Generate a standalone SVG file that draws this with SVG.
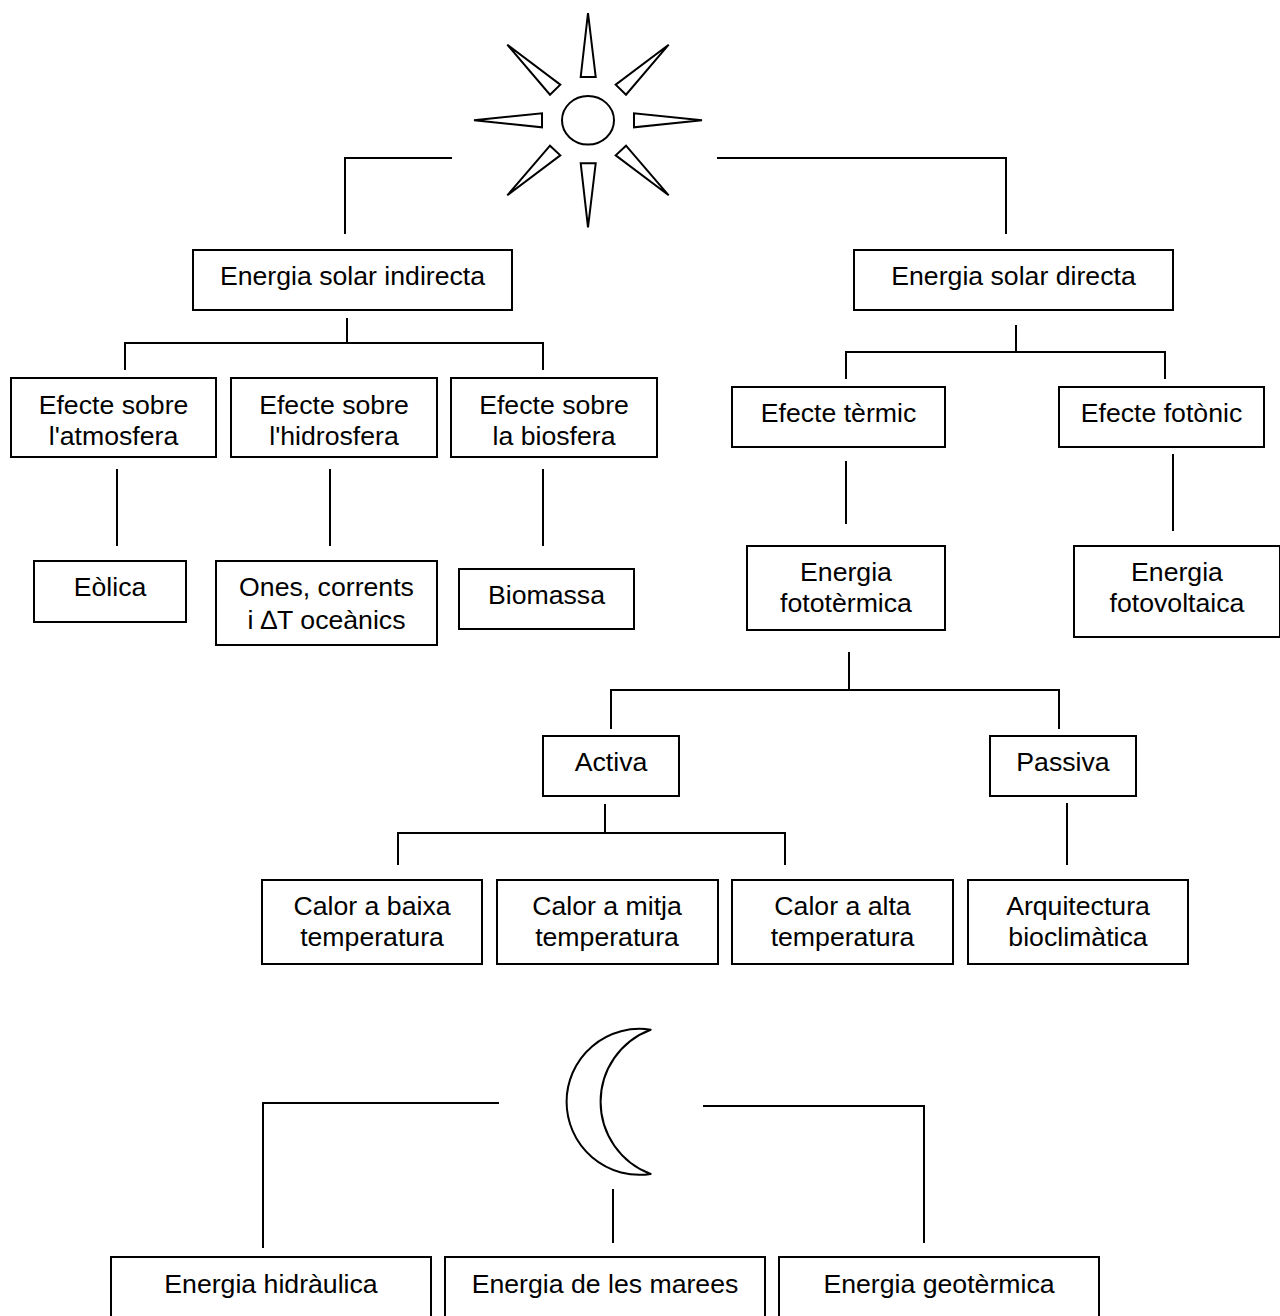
<svg xmlns="http://www.w3.org/2000/svg" width="1280" height="1316" viewBox="0 0 1280 1316">
<style>
.b{fill:#fff;stroke:#000;stroke-width:2}
.s{fill:none;stroke:#000;stroke-width:2;stroke-linejoin:miter}
.m{fill:none;stroke:#000;stroke-width:2;stroke-linejoin:round}
.c{fill:none;stroke:#000;stroke-width:2}
text{font-family:"Liberation Sans",Arial,sans-serif;font-size:26.67px;fill:#000;text-anchor:middle}
</style>
<rect width="1280" height="1316" fill="#fff"/>
<g id="connectors">
<path class="c" d="M452 158H345V234"/>
<path class="c" d="M717 158H1006V234"/>
<path class="c" d="M347 318V343M125 370V343H543V370"/>
<path class="c" d="M1016 325V352M846 379V352H1165V379"/>
<path class="c" d="M117 469V546M330 469V546M543 469V546"/>
<path class="c" d="M846 461V524M1173 454V531"/>
<path class="c" d="M849 652V690M611 729V690H1059V729"/>
<path class="c" d="M605 804V833M398 865V833H785V865"/>
<path class="c" d="M1067 803V865"/>
<path class="c" d="M499 1103H263V1248"/>
<path class="c" d="M703 1106H924V1243"/>
<path class="c" d="M613 1189V1243"/>
</g>
<g id="sun">
<ellipse class="s" cx="588" cy="120.3" rx="26" ry="24.3"/>
<path class="s" d="M588 13L595.7 77H580.7Z"/>
<path class="s" d="M668.7 44.7L626 94.7L615.7 84.7Z"/>
<path class="s" d="M507.3 44.7L560.3 84.7L550 94.7Z"/>
<path class="s" d="M474 120.3L542 113.3V127.3Z"/>
<path class="s" d="M702 120.3L634 113.3V127.3Z"/>
<path class="s" d="M507.3 195.3L550 145.7L560.3 155.3Z"/>
<path class="s" d="M668.7 195.3L615.7 155.3L626 145.7Z"/>
<path class="s" d="M588 227.3L580.7 163.3H595.7Z"/>
</g>
<g id="moon">
<path class="m" d="M650.7 1029.7A73 73 0 1 0 650.7 1174A77 77 0 0 1 650.7 1029.7Z"/>
</g>
<g id="n-indirecta"><rect class="b" x="193" y="250" width="319" height="60"/><text x="352.500" y="285">Energia solar indirecta</text></g>
<g id="n-directa"><rect class="b" x="854" y="250" width="319" height="60"/><text x="1013.500" y="285">Energia solar directa</text></g>
<g id="n-atmosfera"><rect class="b" x="11" y="378" width="205" height="79"/><text x="113.500" y="414">Efecte sobre</text><text x="113.500" y="445">l'atmosfera</text></g>
<g id="n-hidrosfera"><rect class="b" x="231" y="378" width="206" height="79"/><text x="334" y="414">Efecte sobre</text><text x="334" y="445">l'hidrosfera</text></g>
<g id="n-biosfera"><rect class="b" x="451" y="378" width="206" height="79"/><text x="554" y="414">Efecte sobre</text><text x="554" y="445">la biosfera</text></g>
<g id="n-termic"><rect class="b" x="732" y="387" width="213" height="60"/><text x="838.500" y="422">Efecte tèrmic</text></g>
<g id="n-fotonic"><rect class="b" x="1059" y="387" width="205" height="60"/><text x="1161.500" y="422">Efecte fotònic</text></g>
<g id="n-eolica"><rect class="b" x="34" y="561" width="152" height="61"/><text x="110" y="596">Eòlica</text></g>
<g id="n-ones"><rect class="b" x="216" y="561" width="221" height="84"/><text x="326.500" y="596">Ones, corrents</text><text x="326.500" y="629">i ∆T oceànics</text></g>
<g id="n-biomassa"><rect class="b" x="459" y="569" width="175" height="60"/><text x="546.500" y="604">Biomassa</text></g>
<g id="n-fototermica"><rect class="b" x="747" y="546" width="198" height="84"/><text x="846" y="581">Energia</text><text x="846" y="612">fototèrmica</text></g>
<g id="n-fotovoltaica"><rect class="b" x="1074" y="546" width="206" height="91"/><text x="1177" y="581">Energia</text><text x="1177" y="612">fotovoltaica</text></g>
<g id="n-activa"><rect class="b" x="543" y="736" width="136" height="60"/><text x="611" y="771">Activa</text></g>
<g id="n-passiva"><rect class="b" x="990" y="736" width="146" height="60"/><text x="1063" y="771">Passiva</text></g>
<g id="n-baixa"><rect class="b" x="262" y="880" width="220" height="84"/><text x="372" y="915">Calor a baixa</text><text x="372" y="946">temperatura</text></g>
<g id="n-mitja"><rect class="b" x="497" y="880" width="221" height="84"/><text x="607" y="915">Calor a mitja</text><text x="607" y="946">temperatura</text></g>
<g id="n-alta"><rect class="b" x="732" y="880" width="221" height="84"/><text x="842.500" y="915">Calor a alta</text><text x="842.500" y="946">temperatura</text></g>
<g id="n-arquitectura"><rect class="b" x="968" y="880" width="220" height="84"/><text x="1078" y="915">Arquitectura</text><text x="1078" y="946">bioclimàtica</text></g>
<g id="n-hidraulica"><rect class="b" x="111" y="1257" width="320" height="70"/><text x="271" y="1293">Energia hidràulica</text></g>
<g id="n-marees"><rect class="b" x="445" y="1257" width="320" height="70"/><text x="605" y="1293">Energia de les marees</text></g>
<g id="n-geotermica"><rect class="b" x="779" y="1257" width="320" height="70"/><text x="939" y="1293">Energia geotèrmica</text></g>
</svg>
